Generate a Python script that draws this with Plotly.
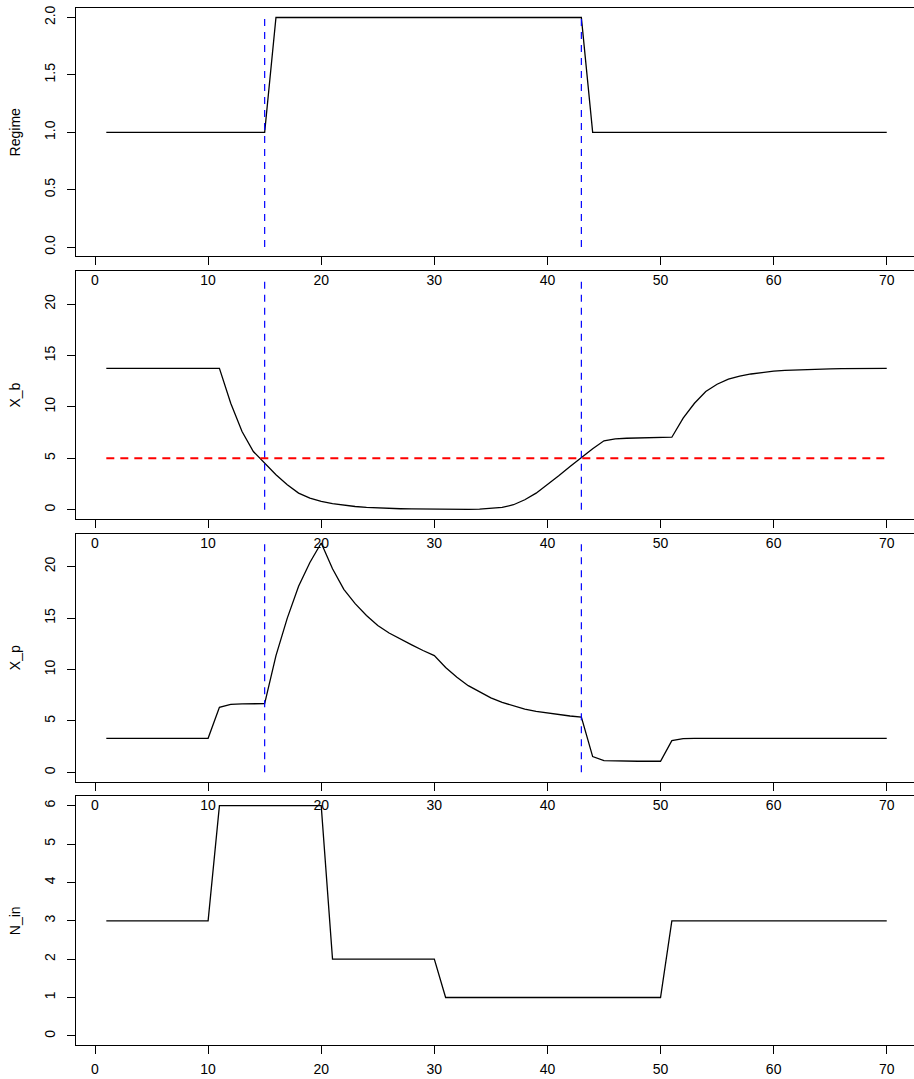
import plotly.graph_objects as go
from plotly.subplots import make_subplots

# ---------------- data ----------------
t = list(range(1, 71))

regime = [1, 1, 1, 1, 1, 1, 1, 1, 1, 1, 1, 1, 1, 1, 1,
          2, 2, 2, 2, 2, 2, 2, 2, 2, 2, 2, 2, 2, 2, 2, 2, 2, 2, 2, 2, 2, 2, 2, 2, 2, 2, 2, 2,
          1, 1, 1, 1, 1, 1, 1, 1, 1, 1, 1, 1, 1, 1, 1, 1, 1, 1, 1, 1, 1, 1, 1, 1, 1, 1, 1]

X_b = [13.75, 13.75, 13.75, 13.75, 13.75, 13.75, 13.75, 13.75, 13.75, 13.75,
       13.75, 10.35, 7.6, 5.66, 4.5, 3.4, 2.42, 1.61, 1.13, 0.8,
       0.58, 0.42, 0.31, 0.22, 0.16, 0.12, 0.09, 0.07, 0.05, 0.04,
       0.03, 0.03, 0.03, 0.05, 0.1, 0.22, 0.48, 0.97, 1.61, 2.42,
       3.3, 4.2, 5.08, 5.92, 6.7, 6.89, 6.95, 6.98, 7.0, 7.02,
       7.05, 8.9, 10.35, 11.5, 12.2, 12.7, 13.0, 13.2, 13.35, 13.47,
       13.55, 13.6, 13.65, 13.68, 13.7, 13.72, 13.73, 13.74, 13.74, 13.75]

X_p = [3.31, 3.31, 3.31, 3.31, 3.31, 3.31, 3.31, 3.31, 3.31, 3.31,
       6.32, 6.6, 6.66, 6.68, 6.68, 11.35, 15.0, 18.1, 20.4, 22.3,
       19.8, 17.8, 16.4, 15.25, 14.27, 13.55, 12.95, 12.4, 11.85, 11.35,
       10.2, 9.25, 8.43, 7.8, 7.24, 6.8, 6.45, 6.15, 5.92, 5.75,
       5.6, 5.48, 5.37, 1.53, 1.14, 1.1, 1.09, 1.08, 1.08, 1.08,
       3.08, 3.28, 3.31, 3.31, 3.31, 3.31, 3.31, 3.31, 3.31, 3.31,
       3.31, 3.31, 3.31, 3.31, 3.31, 3.31, 3.31, 3.31, 3.31, 3.31]

N_in = [3, 3, 3, 3, 3, 3, 3, 3, 3, 3,
        6, 6, 6, 6, 6, 6, 6, 6, 6, 6,
        2, 2, 2, 2, 2, 2, 2, 2, 2, 2,
        1, 1, 1, 1, 1, 1, 1, 1, 1, 1, 1, 1, 1, 1, 1, 1, 1, 1, 1, 1,
        3, 3, 3, 3, 3, 3, 3, 3, 3, 3, 3, 3, 3, 3, 3, 3, 3, 3, 3, 3]

regime_change_x = [15, 43]
threshold = 5

x_ticks = [0, 10, 20, 30, 40, 50, 60, 70]
y_titles = ["Regime", "X_b", "X_p", "N_in"]

# ---------------- figure ----------------
W, H = 914, 1079
FONT = "Liberation Sans, Arial, Helvetica, sans-serif"
FS = 14

fig = make_subplots(rows=4, cols=1)

xmax_p = max(X_p)
panels = [
    dict(y=regime, ylim=(0, 2), ticks=[0, 0.5, 1.0, 1.5, 2.0], fmt=".1f", vlines=True),
    dict(y=X_b, ylim=(0, xmax_p), ticks=[0, 5, 10, 15, 20], fmt="d", vlines=True),
    dict(y=X_p, ylim=(0, xmax_p), ticks=[0, 5, 10, 15, 20], fmt="d", vlines=True),
    dict(y=N_in, ylim=(0, 6), ticks=[0, 1, 2, 3, 4, 5, 6], fmt="d", vlines=False),
]

# pixel boxes (top, bottom) of each panel
boxes = [(5.3, 254.0), (269.0, 517.3), (532.3, 780.7), (795.7, 1045.0)]

for i, p in enumerate(panels):
    r = i + 1
    fig.add_trace(go.Scatter(x=t, y=p["y"], mode="lines",
                             line=dict(color="black", width=1.3),
                             showlegend=False, hoverinfo="skip"), row=r, col=1)
    if p["vlines"]:
        vx, vy = [], []
        for xv in regime_change_x:
            vx += [xv, xv, None]
            vy += [p["ylim"][0], p["ylim"][1], None]
        fig.add_trace(go.Scatter(x=vx, y=vy, mode="lines",
                                 line=dict(color="blue", width=1.2, dash="7px,6px"),
                                 showlegend=False, hoverinfo="skip"), row=r, col=1)
    if i == 1:
        fig.add_trace(go.Scatter(x=[t[0], t[-1]], y=[threshold, threshold], mode="lines",
                                 line=dict(color="red", width=2, dash="8px,6px"),
                                 showlegend=False, hoverinfo="skip"), row=r, col=1)

    lo, hi = p["ylim"]
    pad = 0.04 * (hi - lo)
    top, bot = boxes[i]
    dom = [1 - bot / H, 1 - top / H]

    xname = "xaxis" if r == 1 else f"xaxis{r}"
    yname = "yaxis" if r == 1 else f"yaxis{r}"
    fig.layout[xname].update(
        domain=[0, 1], range=[-1.68, 72.41], tickvals=x_ticks,
        ticks="outside", ticklen=8, tickwidth=1, tickcolor="black",
        showline=True, linecolor="black", linewidth=1, mirror=True,
        showgrid=False, zeroline=False,
        tickfont=dict(family=FONT, size=FS, color="black"),
        ticklabelstandoff=3,
    )
    fig.layout[yname].update(
        domain=dom, range=[lo - pad, hi + pad], tickvals=p["ticks"], tickformat=p["fmt"],
        ticks="outside", ticklen=8, tickwidth=1, tickcolor="black",
        showline=True, linecolor="black", linewidth=1, mirror=False,
        showgrid=False, zeroline=False, tickangle=-90,
        tickfont=dict(family=FONT, size=FS, color="black"),
        ticklabelstandoff=6,
        title=dict(text=y_titles[i], font=dict(family=FONT, size=FS, color="black"),
                   standoff=18),
    )

fig.update_layout(
    width=W, height=H,
    margin=dict(l=76, r=0, t=0, b=0),
    paper_bgcolor="white", plot_bgcolor="white",
    font=dict(family=FONT, size=FS, color="black"),
)

fig.write_html(
    "out.html",
    config={"displayModeBar": False},
    post_script="document.body.style.margin='0';document.body.style.overflow='hidden';",
)
